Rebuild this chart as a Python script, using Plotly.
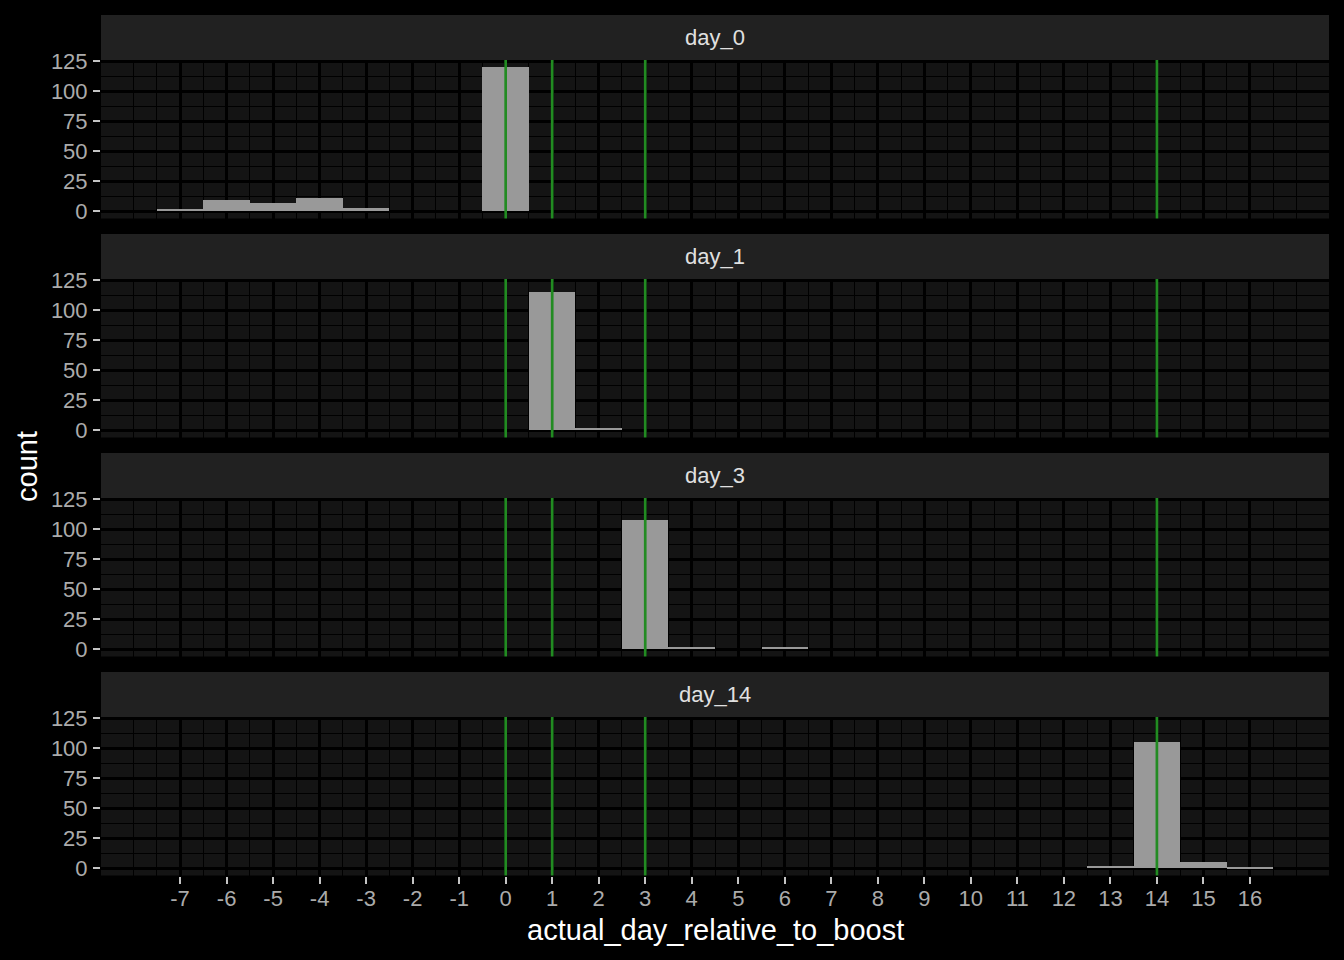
import plotly.graph_objects as go

# ---- data ----
panels = ["day_0", "day_1", "day_3", "day_14"]
day0_x = [-7, -6, -5, -4, -3, 0]
day0_n = [2, 9, 7, 11, 3, 120]
day1_x = [1, 2]
day1_n = [115, 2]
day3_x = [3, 4, 6]
day3_n = [108, 2, 2]
day14_x = [13, 14, 15, 16]
day14_n = [2, 105, 5, 1]
vlines = [0, 1, 3, 14]
x_ticks = list(range(-7, 17))
y_ticks = [0, 25, 50, 75, 100, 125]

series = [(day0_x, day0_n), (day1_x, day1_n), (day3_x, day3_n), (day14_x, day14_n)]

W, H = 1344, 960
PX_L, PX_R = 101, 1329
panel_px = [(60, 218.5), (279, 437.5), (498, 656.5), (717, 875.5)]
strip_px = [(15, 60), (234, 279), (453, 498), (672, 717)]

def py(v):
    return 1 - v / H

FONT = "Liberation Sans, Arial, sans-serif"
BAR = "#999999"
PANEL_BG = "#141414"
STRIP_BG = "#212121"
TICK_TXT = "#ababab"
TICK_COL = "#c4c4c4"

x_minor = [-8 + 0.5 * i for i in range(51) if (-8 + 0.5 * i) not in x_ticks]
y_minor = [12.5, 37.5, 62.5, 87.5, 112.5]

fig = go.Figure()
layout = dict(
    width=W, height=H,
    margin=dict(l=0, r=0, t=0, b=0, autoexpand=False),
    paper_bgcolor="black",
    plot_bgcolor=PANEL_BG,
    showlegend=False,
    bargap=0,
    font=dict(family=FONT),
)
shapes = []
annotations = []

for i, (name, (xs, ns)) in enumerate(zip(panels, series)):
    n = i + 1
    xa = "x" if n == 1 else f"x{n}"
    ya = "y" if n == 1 else f"y{n}"
    fig.add_trace(go.Bar(
        x=xs, y=ns, width=1, xaxis=xa, yaxis=ya,
        marker=dict(color=BAR, line=dict(width=0)),
        hoverinfo="x+y",
    ))
    top, bot = panel_px[i]
    last = n == 4
    layout[f"xaxis{n}" if n > 1 else "xaxis"] = dict(
        domain=[PX_L / W, PX_R / W],
        anchor=ya,
        range=[-8.7, 17.7],
        tickmode="array", tickvals=x_ticks,
        ticktext=[str(v) for v in x_ticks] if last else [""] * len(x_ticks),
        showticklabels=last,
        ticks="outside" if last else "",
        ticklen=7, tickwidth=2, tickcolor=TICK_COL,
        ticklabelstandoff=-4,
        tickfont=dict(size=22, color=TICK_TXT, family=FONT),
        showgrid=True, gridcolor="#000000", gridwidth=2.6,
        minor=dict(tickmode="array", tickvals=x_minor, showgrid=True,
                   gridcolor="#000000", gridwidth=1.3, ticks=""),
        zeroline=False, showline=False,
        matches=None if n == 1 else "x",
        fixedrange=True,
    )
    layout[f"yaxis{n}" if n > 1 else "yaxis"] = dict(
        domain=[py(bot), py(top)],
        anchor=xa,
        range=[-6, 126],
        tickmode="array", tickvals=y_ticks,
        ticks="outside", ticklen=7, tickwidth=2, tickcolor=TICK_COL,
        ticklabelstandoff=1,
        tickfont=dict(size=22, color=TICK_TXT, family=FONT),
        showgrid=True, gridcolor="#000000", gridwidth=2.6,
        minor=dict(tickmode="array", tickvals=y_minor, showgrid=True,
                   gridcolor="#000000", gridwidth=1.3, ticks=""),
        zeroline=False, showline=False,
        fixedrange=True,
    )
    for v in vlines:
        shapes.append(dict(
            type="line", xref=xa, yref=f"{ya} domain",
            x0=v, x1=v, y0=0, y1=1,
            line=dict(color="#228B22", width=2.7), layer="above",
        ))
    s_top, s_bot = strip_px[i]
    shapes.append(dict(
        type="rect", xref="paper", yref="paper",
        x0=PX_L / W, x1=PX_R / W, y0=py(s_bot), y1=py(s_top),
        fillcolor=STRIP_BG, line=dict(width=0), layer="below",
    ))
    annotations.append(dict(
        text=name, xref="paper", yref="paper",
        x=(PX_L + PX_R) / 2 / W, y=py((s_top + s_bot) / 2),
        xanchor="center", yanchor="middle", showarrow=False,
        font=dict(size=22, color="#e0e0e0", family=FONT),
    ))

annotations.append(dict(
    text="actual_day_relative_to_boost", xref="paper", yref="paper",
    x=(PX_L + PX_R) / 2 / W, y=py(930), xanchor="center", yanchor="middle",
    showarrow=False, font=dict(size=29, color="#ffffff", family=FONT),
))
annotations.append(dict(
    text="count", xref="paper", yref="paper",
    x=27 / W, y=py(467), xanchor="center", yanchor="middle", textangle=-90,
    showarrow=False, font=dict(size=29, color="#ffffff", family=FONT),
))

layout["shapes"] = shapes
layout["annotations"] = annotations
fig.update_layout(**layout)
fig.write_html("out.html")
